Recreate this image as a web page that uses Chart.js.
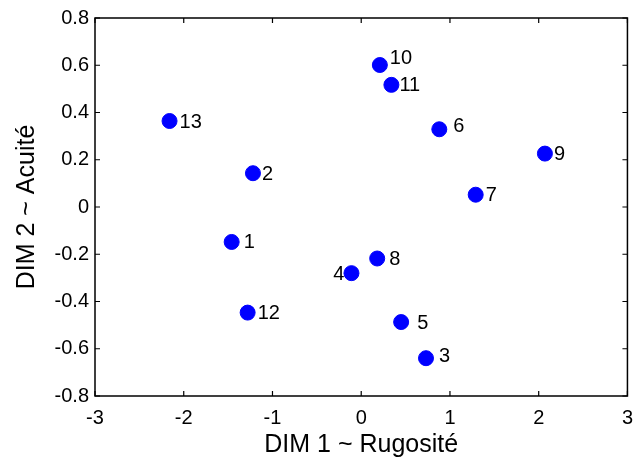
<!DOCTYPE html>
<html>
<head>
<meta charset="utf-8">
<script src="https://cdn.jsdelivr.net/npm/chart.js@4.4.1/dist/chart.umd.min.js"></script>
<style>
  html, body { margin: 0; padding: 0; background: #fff; }
  #wrap { width: 643px; height: 462px; }
</style>
</head>
<body>
<div id="wrap"><canvas id="myChart"></canvas></div>
<script>
// MDS map, one point per sample
const sampleLabels = ['1','2','3','4','5','6','7','8','9','10','11','12','13'];
const dim1 = [-1.46, -1.22, 0.73, -0.11, 0.45, 0.88, 1.29, 0.18, 2.07, 0.21, 0.34, -1.28, -2.16];
const dim2 = [-0.148, 0.143, -0.64, -0.28, -0.487, 0.329, 0.052, -0.218, 0.226, 0.601, 0.517, -0.447, 0.364];
const xTicks = [-3, -2, -1, 0, 1, 2, 3];
const yTicks = [-0.8, -0.6, -0.4, -0.2, 0, 0.2, 0.4, 0.6, 0.8];

const pts = dim1.map((x, i) => ({ x: x, y: dim2[i] }));
const FONT = '"Liberation Sans", Arial, sans-serif';

// label offsets in px (dx, dy), text is right aligned when dx<0
const labelOffset = { '4': [-7, 0], '6': [14, -4], '5': [16, 0], '3': [13, -3], '10': [10, -8], '8': [12, 0], '1': [12, 0], '11': [8, 0], '2': [9, 0], '9': [9, 0] };

// box + inward ticks on all four sides, then the point numbers
const boxAndLabels = {
  id: 'boxAndLabels',
  afterDraw(chart) {
    const c = chart.ctx;
    const a = chart.chartArea;
    const xs = chart.scales.x, ys = chart.scales.y;
    c.save();
    c.strokeStyle = '#000';
    c.lineWidth = 1.5;
    c.strokeRect(a.left, a.top, a.right - a.left, a.bottom - a.top);
    c.lineWidth = 1.2;
    c.beginPath();
    xTicks.forEach(v => {
      const px = xs.getPixelForValue(v);
      c.moveTo(px, a.bottom); c.lineTo(px, a.bottom - 5);
      c.moveTo(px, a.top); c.lineTo(px, a.top + 5);
    });
    yTicks.forEach(v => {
      const py = ys.getPixelForValue(v);
      c.moveTo(a.left, py); c.lineTo(a.left + 5, py);
      c.moveTo(a.right, py); c.lineTo(a.right - 5, py);
    });
    c.stroke();

    c.fillStyle = '#000';
    c.font = '20px ' + FONT;
    c.textBaseline = 'middle';
    chart.getDatasetMeta(0).data.forEach((el, i) => {
      const lab = sampleLabels[i];
      const off = labelOffset[lab] || [10, 0];
      c.textAlign = off[0] < 0 ? 'right' : 'left';
      c.fillText(lab, el.x + off[0], el.y + off[1] + 1);
    });
    c.restore();
  }
};

const ctx = document.getElementById('myChart').getContext('2d');
new Chart(ctx, {
  type: 'scatter',
  data: {
    datasets: [{
      data: pts,
      backgroundColor: '#0000ff',
      borderColor: '#0000ff',
      pointRadius: 7.5,
      pointHoverRadius: 7.5
    }]
  },
  options: {
    responsive: true,
    maintainAspectRatio: false,
    animation: false,
    events: [],
    layout: { padding: { top: 14, right: 15, left: 0, bottom: 0 } },
    plugins: { legend: { display: false }, tooltip: { enabled: false } },
    scales: {
      x: {
        type: 'linear', min: -3, max: 3,
        afterBuildTicks: s => { s.ticks = xTicks.map(v => ({ value: v })); },
        grid: { display: false, drawTicks: false },
        border: { display: false },
        ticks: { color: '#000', font: { size: 20, family: FONT }, padding: 10, maxRotation: 0 },
        title: { display: true, text: 'DIM 1 ~ Rugosité', color: '#000', font: { size: 25, family: FONT }, padding: { top: 0, bottom: 2 } },
        afterFit: s => { s.height = 462 - 396; }
      },
      y: {
        type: 'linear', min: -0.8, max: 0.8,
        afterBuildTicks: s => { s.ticks = yTicks.map(v => ({ value: v })); },
        grid: { display: false, drawTicks: false },
        border: { display: false },
        ticks: { color: '#000', font: { size: 20, family: FONT }, padding: 6, callback: v => String(Math.round(v * 10) / 10) },
        title: { display: true, text: 'DIM 2 ~ Acuité', color: '#000', font: { size: 25, family: FONT }, padding: { top: 12, bottom: 0 } },
        afterFit: s => { s.width = 95; }
      }
    }
  },
  plugins: [boxAndLabels]
});
</script>
</body>
</html>
